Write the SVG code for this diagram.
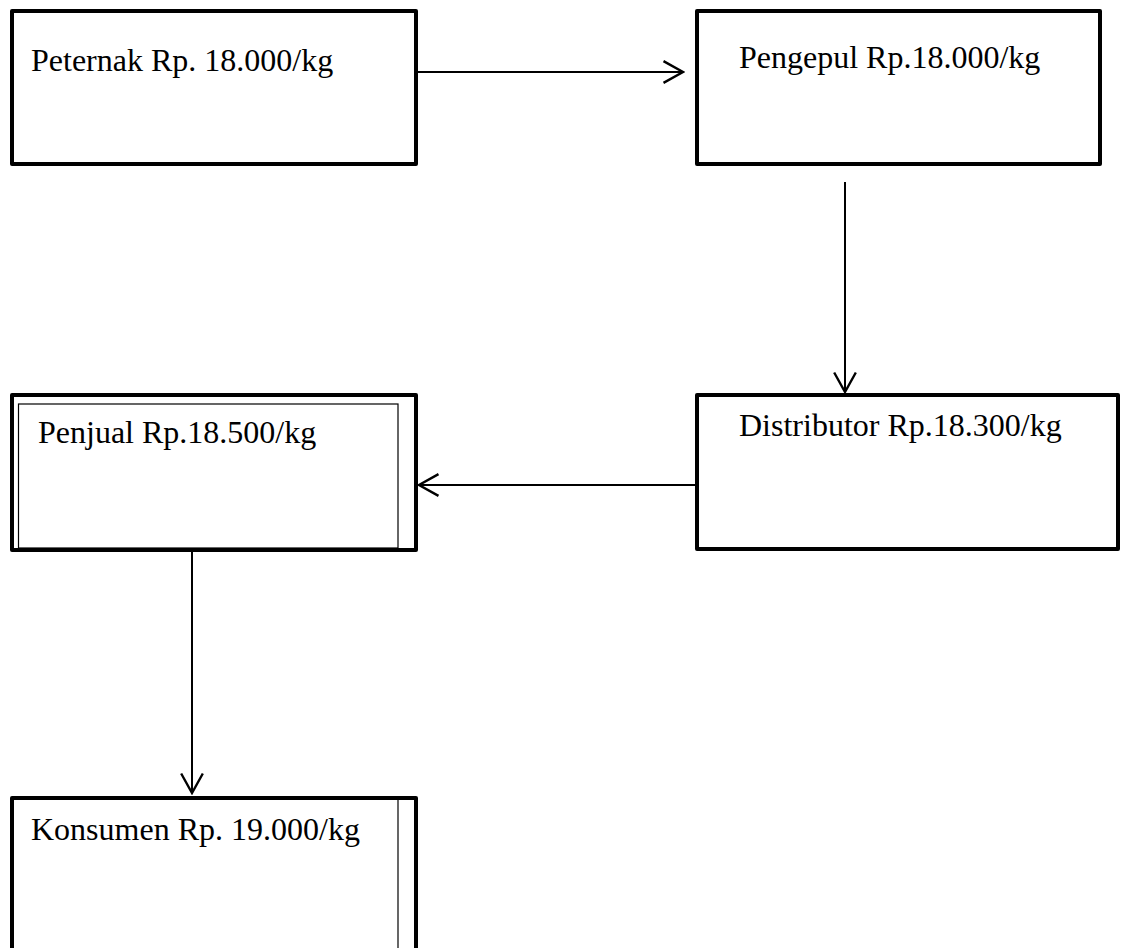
<svg xmlns="http://www.w3.org/2000/svg" width="1123" height="948" viewBox="0 0 1123 948">
<style>
.box{fill:#fff;stroke:#000;stroke-width:4;stroke-linejoin:round}
.thin{fill:none;stroke:#000;stroke-width:1.2}
.lbl{font-family:"Liberation Serif","Times New Roman",serif;font-size:32px;fill:#000}
.con{fill:none;stroke:#000;stroke-width:2;marker-end:url(#arr)}
</style>
<defs>
<marker id="arr" markerUnits="userSpaceOnUse" markerWidth="24" markerHeight="26" viewBox="-20 -12 22 24" refX="0" refY="0" orient="auto">
<path d="M-18,-10 L0,0 L-18,10" fill="none" stroke="#000" stroke-width="2.2"/>
</marker>
</defs>
<rect width="1123" height="948" fill="#fff"/>
<g id="peternak">
<rect class="box" x="12" y="11" width="404" height="153"/>
<text class="lbl" x="31" y="71">Peternak Rp. 18.000/kg</text>
</g>
<g id="pengepul">
<rect class="box" x="697" y="11" width="403" height="153"/>
<text class="lbl" x="739" y="68">Pengepul Rp.18.000/kg</text>
</g>
<g id="distributor">
<rect class="box" x="697" y="395" width="421" height="154"/>
<text class="lbl" x="739" y="436">Distributor Rp.18.300/kg</text>
</g>
<g id="penjual">
<rect class="box" x="12" y="395" width="404" height="155"/>
<rect class="thin" x="18.5" y="404" width="379.5" height="144"/>
<text class="lbl" x="38" y="443">Penjual Rp.18.500/kg</text>
</g>
<g id="konsumen">
<rect class="box" x="12" y="798" width="404" height="200"/>
<line class="thin" x1="398" y1="800" x2="398" y2="948"/>
<text class="lbl" x="31" y="840">Konsumen Rp. 19.000/kg</text>
</g>
<g id="connectors">
<line class="con" x1="418" y1="72" x2="683" y2="72"/>
<line class="con" x1="845" y1="182" x2="845" y2="392"/>
<line class="con" x1="695" y1="485" x2="419" y2="485"/>
<line class="con" x1="192" y1="552" x2="192" y2="793"/>
</g>
</svg>
